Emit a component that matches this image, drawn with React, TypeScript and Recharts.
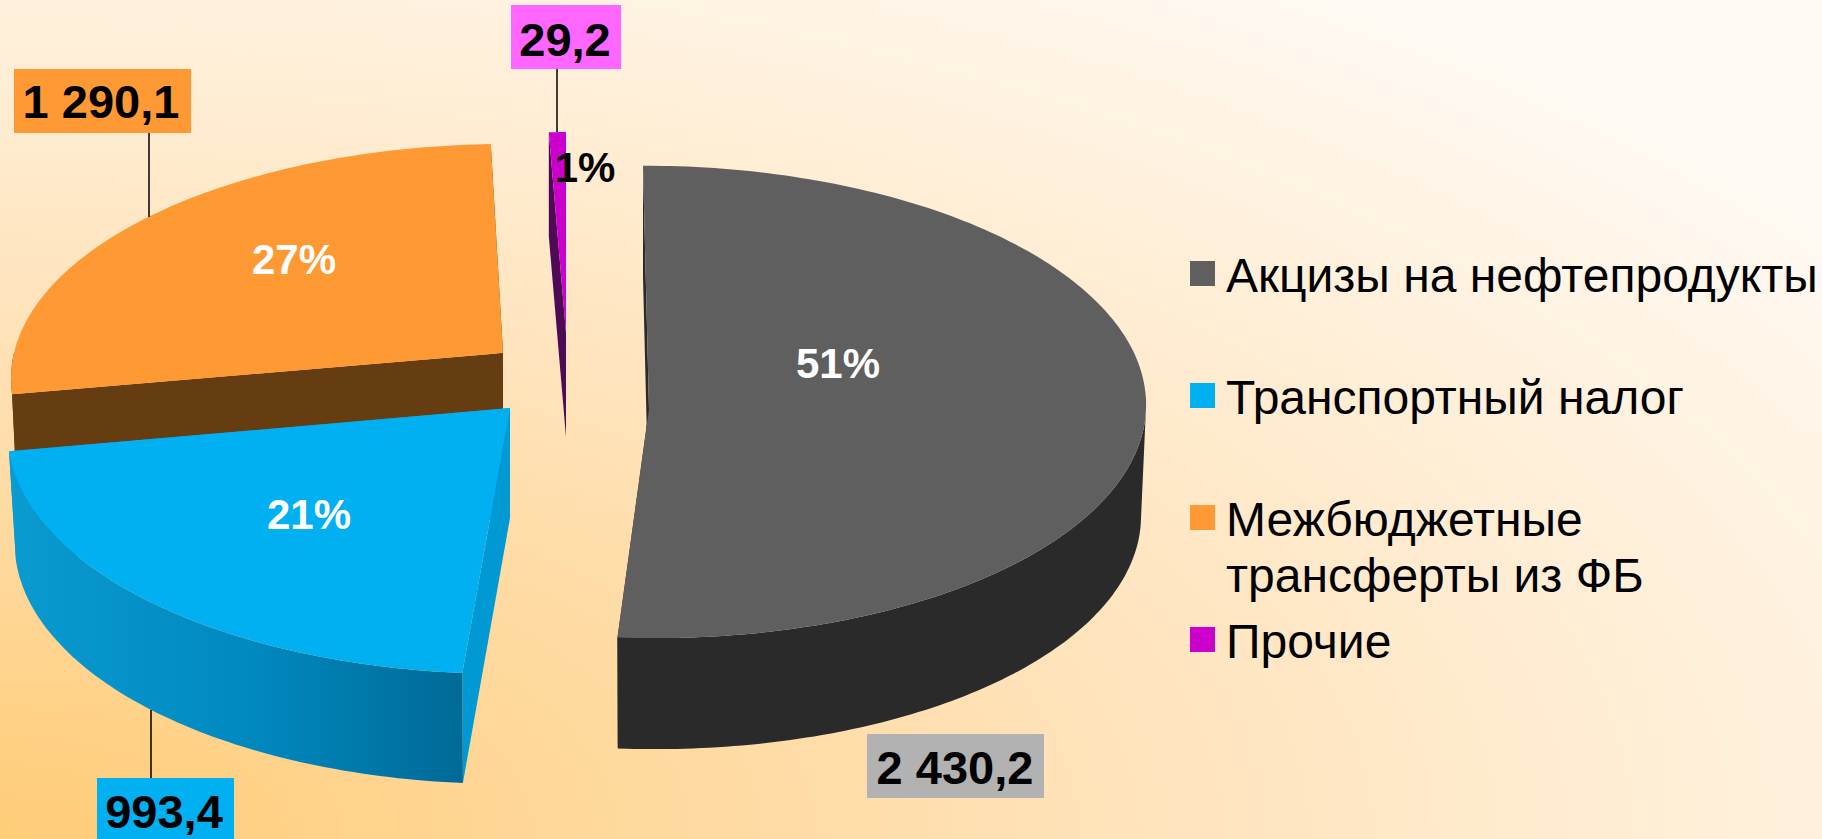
import { Legend, Pie, PieChart } from "recharts"

const names = ["Акцизы на нефтепродукты", "Транспортный налог", "Межбюджетные трансферты из ФБ", "Прочие"]
const values = [2430.2, 993.4, 1290.1, 29.2]
const colors = ["#5f5f5f", "#00b0f0", "#ff9933", "#cc00cc"]

const tableData = names.map((name, i) => ({ name, value: values[i], fill: colors[i] }))

// each slice is pulled out of the pie by hand and has its own perspective (a, b, k, skew)
const views = [
  { x: 649, y: 409, a: 497, b: 236, k: -0.03, skew: 6, depth: 111, shrink: 5, wall: "#2a2a2a", cut: "#2a2a2a" },
  { x: 510, y: 408, a: 500, b: 242, k: 0.09, skew: -5, depth: 110, shrink: 7, wall: "url(#blueWall)", cut: "#0099d4" },
  { x: 503, y: 353, a: 489, b: 230, k: 0.1, skew: -5, depth: 104, shrink: 5, wall: "#663c11", cut: "#663c11" },
  { x: 566, y: 333, a: 490, b: 221, k: 0.1, skew: 0, depth: 104, shrink: 1, wall: "#4d0a55", cut: "#4d0a55" },
]

const percentSpots = [
  { x: 838, y: 378, color: "#fff" },
  { x: 309, y: 529, color: "#fff" },
  { x: 294, y: 274, color: "#fff" },
  { x: 585, y: 182, color: "#000" },
]

const valueBoxes = [
  { x: 867, y: 734, w: 177, h: 64, tx: 955, base: 784, fill: "#b2b2b2", line: null },
  { x: 97, y: 778, w: 137, h: 70, tx: 164, base: 828, fill: "#00b0f0", line: [151, 710, 778] },
  { x: 14, y: 69, w: 177, h: 64, tx: 101, base: 118, fill: "#ff9933", line: [149, 133, 217] },
  { x: 511, y: 5, w: 110, h: 64, tx: 565, base: 56, fill: "#ff66ff", line: [557, 69, 132] },
]

const formatValue = (v: number) =>
  v.toFixed(1).replace(".", ",").replace(/\B(?=(\d{3})(?!\d))/g, " ")

function project(view: any, angle: number, lower: boolean) {
  const rad = (angle * Math.PI) / 180
  const u = Math.cos(rad)
  const v = -Math.sin(rad)
  const w = 1 - view.k * v
  const a = lower ? view.a - view.shrink : view.a
  return [view.x + (a * u) / w + view.skew * v, view.y + (view.b * v) / w + (lower ? view.depth : 0)]
}

const toPath = (pts: number[][]) =>
  "M" + pts.map((p) => p[0].toFixed(1) + "," + p[1].toFixed(1)).join("L") + "Z"

function sliceShape(props: any, layer: number[]) {
  const idx = names.indexOf(props.name)
  if (!layer.includes(idx)) return <g />
  const view = views[idx]
  const { startAngle, endAngle, fill } = props
  const steps = Math.max(2, Math.ceil(Math.abs(endAngle - startAngle)))
  const angles = Array.from({ length: steps + 1 }, (_, i) => startAngle + ((endAngle - startAngle) * i) / steps)
  const top = angles.map((t) => project(view, t, false))
  const front = angles.filter((t) => Math.sin((t * Math.PI) / 180) <= 0)
  const apexTop = [view.x, view.y]
  const apexLow = [view.x, view.y + view.depth]
  const cutFace = (t: number) => toPath([apexTop, project(view, t, false), project(view, t, true), apexLow])
  const wall = [
    ...front.map((t) => project(view, t, false)),
    ...front.slice().reverse().map((t) => project(view, t, true)),
  ]
  return (
    <g>
      <path d={cutFace(startAngle)} fill={view.cut} />
      <path d={cutFace(endAngle)} fill={view.cut} />
      {wall.length > 2 && <path d={toPath(wall)} fill={view.wall} />}
      <path d={toPath([apexTop, ...top])} fill={fill} />
    </g>
  )
}

function sliceLabel(props: any) {
  const idx = names.indexOf(props.name)
  const spot = percentSpots[idx]
  const box = valueBoxes[idx]
  return (
    <g fontFamily="'Liberation Sans'" fontWeight="bold">
      {box.line && <line x1={box.line[0]} x2={box.line[0]} y1={box.line[1]} y2={box.line[2]} stroke="#000" strokeWidth={1.5} />}
      <rect x={box.x} y={box.y} width={box.w} height={box.h} fill={box.fill} />
      <text x={box.tx} y={box.base} textAnchor="middle" fontSize={47} fill="#000">
        {formatValue(props.value)}
      </text>
      <text x={spot.x} y={spot.y} textAnchor="middle" fontSize={42} fill={spot.color}>
        {Math.round(props.percent * 100)}%
      </text>
    </g>
  )
}

// both pies feed the legend, so pick one item per name
function legendContent(props: any) {
  const payload = props.payload ?? []
  const items = names.map((n) => payload.find((p: any) => p.value === n)).filter(Boolean)
  return (
    <div style={{ fontFamily: "'Liberation Sans'", fontSize: 48, lineHeight: "56px", color: "#000" }}>
      {items.map((item: any) => (
        <div key={item.value} style={{ height: 122, position: "relative", paddingLeft: 36 }}>
          <span
            style={{ position: "absolute", left: 0, top: 13, width: 25, height: 25, background: item.color }}
          />
          {item.value}
        </div>
      ))}
    </div>
  )
}

export default function App() {
  return (
    <div
      style={{
        position: "absolute",
        left: 0,
        top: 0,
        width: 1822,
        height: 839,
        overflow: "hidden",
        background: "radial-gradient(ellipse 125% 125% at 0% 100%, #ffcc77 0%, #ffe3bb 50%, #fffaf4 100%)",
      }}
    >
      <PieChart width={1822} height={839} margin={{ top: 0, right: 0, bottom: 0, left: 0 }}>
        <defs>
          <linearGradient id="blueWall" x1="0" y1="0" x2="1" y2="0">
            <stop offset="0%" stopColor="#0a9bd0" />
            <stop offset="55%" stopColor="#0088bf" />
            <stop offset="100%" stopColor="#006a96" />
          </linearGradient>
        </defs>
        <Legend
          verticalAlign="top"
          align="left"
          layout="vertical"
          wrapperStyle={{ left: 1190, top: 248, width: 632 }}
          content={legendContent}
        />
        <Pie
          data={tableData}
          dataKey="value"
          nameKey="name"
          cx={560}
          cy={400}
          outerRadius={300}
          startAngle={90}
          endAngle={-270}
          stroke="none"
          isAnimationActive={false}
          shape={(p: any) => sliceShape(p, [0, 2, 3])}
        />
        <Pie
          data={tableData}
          dataKey="value"
          nameKey="name"
          cx={560}
          cy={400}
          outerRadius={300}
          startAngle={90}
          endAngle={-270}
          stroke="none"
          legendType="none"
          isAnimationActive={false}
          shape={(p: any) => sliceShape(p, [1])}
          label={sliceLabel}
          labelLine={false}
        />
      </PieChart>
    </div>
  )
}
